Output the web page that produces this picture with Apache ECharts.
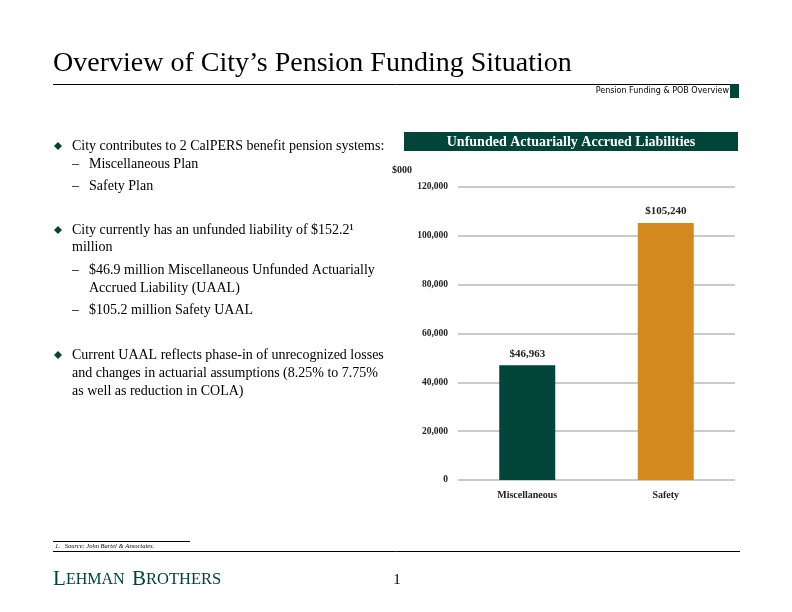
<!DOCTYPE html>
<html><head><meta charset="utf-8">
<script src="https://cdn.jsdelivr.net/npm/echarts@6/dist/echarts.min.js"></script>
<style>html,body{margin:0;padding:0;background:#fff}#c{width:792px;height:612px}</style>
</head><body><div id="c"></div>
<script>
const categories = ['Miscellaneous', 'Safety'];
const values = [46963, 105240];
const valueLabels = ['$46,963', '$105,240'];
const barColors = ['#00443A', '#D4891F'];
const yTicks = [0, 20000, 40000, 60000, 80000, 100000, 120000];

const serif = '"Liberation Serif", "Times New Roman", serif';
const green = '#00443A';

const bodyLines = [
  {t:'City contributes to 2 CalPERS benefit pension systems:', y:146, b:true},
  {t:'–Miscellaneous Plan', y:164},
  {t:'–Safety Plan', y:186},
  {t:'City currently has an unfunded liability of $152.2¹', y:230, b:true},
  {t:'million', y:247},
  {t:'–$46.9 million Miscellaneous Unfunded Actuarially', y:270},
  {t:'Accrued Liability (UAAL)', y:288, indent:true},
  {t:'–$105.2 million Safety UAAL', y:310},
  {t:'Current UAAL reflects phase-in of unrecognized losses', y:355, b:true},
  {t:'and changes in actuarial assumptions (8.25% to 7.75%', y:373},
  {t:'as well as reduction in COLA)', y:391}
];

const graphics = [
  {type:'text', left:53, top:50, style:{text:'Overview of City’s Pension Funding Situation', font:'28px '+serif, fill:'#000'}},
  {type:'line', shape:{x1:53,y1:84.5,x2:738,y2:84.5}, style:{stroke:'#000', lineWidth:1}},
  {type:'text', right:63, top:87, style:{text:'Pension Funding & POB Overview', font:'8px "DejaVu Sans", sans-serif', fill:'#000'}},
  {type:'rect', shape:{x:730,y:84,width:9,height:14}, style:{fill:green}},
  {type:'rect', shape:{x:404,y:132,width:334,height:19}, style:{fill:green}},
  {type:'text', x:571, y:142, style:{text:'Unfunded Actuarially Accrued Liabilities', font:'bold 14px '+serif, fill:'#fff', align:'center', verticalAlign:'middle'}},
  {type:'text', x:392, y:170, style:{text:'$000', font:'bold 10px '+serif, fill:'#222', verticalAlign:'middle'}},
  {type:'line', shape:{x1:53,y1:541.5,x2:190,y2:541.5}, style:{stroke:'#000', lineWidth:1}},
  {type:'text', x:55, y:546, style:{text:'1.   Source: John Bartel & Associates.', font:'italic 6.5px '+serif, fill:'#000', verticalAlign:'middle'}},
  {type:'line', shape:{x1:53,y1:551.5,x2:740,y2:551.5}, style:{stroke:'#000', lineWidth:1}},
  {type:'text', x:53, y:579, style:{text:'L', font:'21px '+serif, fill:green, verticalAlign:'middle'}},
  {type:'text', x:66, y:580, style:{text:'EHMAN', font:'16px '+serif, fill:green, verticalAlign:'middle'}},
  {type:'text', x:132, y:579, style:{text:'B', font:'21px '+serif, fill:green, verticalAlign:'middle'}},
  {type:'text', x:146, y:580, style:{text:'ROTHERS', font:'16.5px '+serif, fill:green, verticalAlign:'middle'}},
  {type:'text', x:397, y:580, style:{text:'1', font:'15px '+serif, fill:'#000', align:'center', verticalAlign:'middle'}}
];
bodyLines.forEach(l => {
  if (l.b) {
    graphics.push({type:'polygon', shape:{points:[[58,l.y-4],[62,l.y],[58,l.y+4],[54,l.y]]}, style:{fill:green}});
  }
  let x = 72;
  let text = l.t;
  if (text.startsWith('–')) {
    graphics.push({type:'text', x:72, y:l.y, style:{text:'–', font:'14px '+serif, fill:'#000', verticalAlign:'middle'}});
    text = text.slice(1);
    x = 89;
  } else if (l.indent) {
    x = 89;
  }
  graphics.push({type:'text', x:x, y:l.y, style:{text:text, font:'14px '+serif, fill:'#000', verticalAlign:'middle'}});
});

const chart = echarts.init(document.getElementById('c'));
chart.setOption({
  animation:false,
  backgroundColor:'#fff',
  grid:{left:458, right:57, top:187, bottom:132, containLabel:false},
  xAxis:{type:'category', data:categories,
    axisLine:{show:false}, axisTick:{show:false},
    axisLabel:{fontFamily:serif, fontWeight:'bold', fontSize:10, color:'#222', margin:10}},
  yAxis:{type:'value', min:0, max:120000, interval:20000,
    axisLine:{show:false}, axisTick:{show:false},
    axisLabel:{fontFamily:serif, fontWeight:'bold', fontSize:9.5, color:'#222', margin:10,
      formatter:v => v===0 ? '0' : v.toLocaleString('en-US')},
    splitLine:{lineStyle:{color:'#b8b8b8', width:1.5}}},
  series:[{type:'bar', barWidth:56,
    data: values.map((v,i)=>({value:v, itemStyle:{color:barColors[i]},
      label:{show:true, position:'top', distance:6, formatter:valueLabels[i], fontFamily:serif, fontWeight:'bold', fontSize:11, color:'#222'}}))}],
  graphic: graphics
});
</script></body></html>
